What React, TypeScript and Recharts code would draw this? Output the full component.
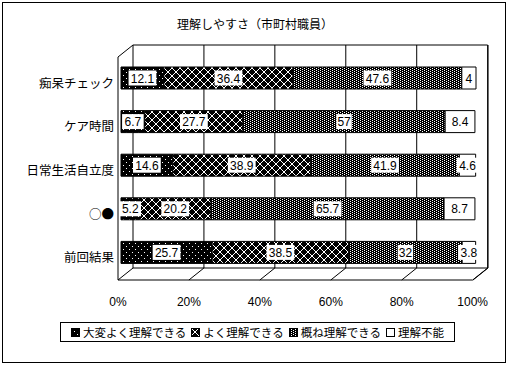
import React from "react";
import { BarChart, Bar, XAxis, YAxis, CartesianGrid, LabelList, Legend, ReferenceArea } from "recharts";

const categories = ["痴呆チェック", "ケア時間", "日常生活自立度", "○●", "前回結果"];
const veryWell = [12.1, 6.7, 14.6, 5.2, 25.7];
const well = [36.4, 27.7, 38.9, 20.2, 38.5];
const mostly = [47.6, 57, 41.9, 65.7, 32];
const notAtAll = [4, 8.4, 4.6, 8.7, 3.8];
const seriesNames = ["大変よく理解できる", "よく理解できる", "概ね理解できる", "理解不能"];
const xTicks = [0, 20, 40, 60, 80, 100];

const keys = ["s1", "s2", "s3", "s4"];
const fills = ["url(#pVery)", "url(#pWell)", "url(#pMostly)", "#fff"];

const data = categories.map((name, i) => ({
  name,
  s1: veryWell[i],
  s2: well[i],
  s3: mostly[i],
  s4: notAtAll[i],
}));

const JP = '"Noto Sans CJK JP", "Noto Sans", sans-serif';
const NUM = '"Liberation Sans", Arial, sans-serif';

// 3D depth of the walls, relative to the plane where the bars sit
const BACK_DX = 12;
const BACK_DY = 11;
const FRONT_DX = 3;
const FRONT_DY = 6;

function gridLine(p: any) {
  const { x1, y1, y2 } = p;
  return (
    <g key={p.key}>
      <line x1={x1 + BACK_DX} y1={y1 - BACK_DY} x2={x1 + BACK_DX} y2={y2 - FRONT_DY} stroke="#000" />
      <line x1={x1 - FRONT_DX} y1={y2 + FRONT_DY} x2={x1 + BACK_DX} y2={y2 - FRONT_DY} stroke="#000" />
    </g>
  );
}

function frame(p: any) {
  const { x, y, width, height } = p;
  const bx = x + BACK_DX;
  const fx = x - FRONT_DX;
  const bottom = y + height;
  return (
    <g fill="none" stroke="#000">
      <line x1={bx} y1={y - BACK_DY} x2={bx + width} y2={y - BACK_DY} />
      <line x1={bx} y1={bottom - FRONT_DY} x2={bx + width} y2={bottom - FRONT_DY} />
      <line x1={fx} y1={y + 1} x2={fx} y2={bottom + FRONT_DY} />
      <line x1={fx} y1={y + 1} x2={bx} y2={y - BACK_DY} />
      <line x1={fx} y1={bottom + FRONT_DY} x2={fx + width} y2={bottom + FRONT_DY} />
    </g>
  );
}

function valueLabel(p: any) {
  const { x, y, width, height, value } = p;
  const text = String(value);
  const tw = text.length * 6.2 + 3;
  const cx = x + width / 2;
  const cy = y + height / 2;
  return (
    <g>
      <rect x={cx - tw / 2} y={cy - 7.5} width={tw} height={15} fill="#fff" />
      <text x={cx} y={cy + 4.5} textAnchor="middle" fontSize={12} fontFamily={NUM} fill="#000">
        {text}
      </text>
    </g>
  );
}

function xTick(p: any) {
  const { x, y, payload } = p;
  return (
    <text x={x - FRONT_DX} y={y + 24} textAnchor="middle" fontSize={12} fontFamily={NUM} fill="#000">
      {payload.value}%
    </text>
  );
}

function yTick(p: any) {
  const { x, y, payload } = p;
  return (
    <text x={x + 1} y={y + FRONT_DY + 4} textAnchor="end" fontSize={12.5} fontFamily={JP} fill="#000">
      {payload.value}
    </text>
  );
}

function legendBox() {
  return (
    <div
      style={{
        border: "1px solid #000",
        height: 18,
        display: "flex",
        alignItems: "center",
        justifyContent: "center",
        gap: 5,
        fontFamily: JP,
        fontSize: 11.5,
        background: "#fff",
        whiteSpace: "nowrap",
      }}
    >
      {seriesNames.map((n, i) => (
        <span key={n} style={{ display: "flex", alignItems: "center", gap: 3 }}>
          <svg width={9} height={9}>
            <rect x={0.5} y={0.5} width={8} height={8} fill={fills[i]} stroke="#000" />
          </svg>
          {n}
        </span>
      ))}
    </div>
  );
}

export default function App() {
  return (
    <div style={{ position: "absolute", left: 0, top: 0, width: 510, height: 366, background: "#fff" }}>
      <div
        style={{
          position: "absolute",
          left: 2,
          top: 2,
          width: 502,
          height: 359,
          border: "1px solid #000",
          pointerEvents: "none",
        }}
      />
      <div
        style={{
          position: "absolute",
          left: 0,
          top: 16,
          width: 510,
          textAlign: "center",
          fontFamily: JP,
          fontSize: 12,
          lineHeight: "16px",
        }}
      >
        理解しやすさ（市町村職員）
      </div>
      <BarChart
        width={510}
        height={366}
        data={data}
        layout="vertical"
        margin={{ top: 56, right: 34, bottom: 62, left: 0 }}
        barSize={22}
      >
        <defs>
          <pattern id="pVery" width={6} height={6} patternUnits="userSpaceOnUse">
            <rect width={6} height={6} fill="#000" />
            <rect x={0} y={0} width={1} height={1} fill="#fff" />
            <rect x={3} y={3} width={1} height={1} fill="#fff" />
          </pattern>
          <pattern id="pWell" width={8} height={8} patternUnits="userSpaceOnUse">
            <rect width={8} height={8} fill="#000" />
            <path d="M0,0 L8,8 M8,0 L0,8" stroke="#fff" strokeWidth={1} />
          </pattern>
          <pattern id="pMostly" width={4} height={2} patternUnits="userSpaceOnUse">
            <rect width={4} height={2} fill="#000" />
            <rect x={0} y={0} width={1} height={1} fill="#fff" />
            <rect x={2} y={1} width={1} height={1} fill="#fff" />
          </pattern>
        </defs>
        <CartesianGrid horizontal={false} vertical={gridLine} />
        <ReferenceArea x1={0} x2={100} shape={frame} ifOverflow="visible" />
        <XAxis
          type="number"
          domain={[0, 100]}
          ticks={xTicks}
          axisLine={false}
          tickLine={false}
          height={30}
          tick={xTick}
          interval={0}
        />
        <YAxis
          type="category"
          dataKey="name"
          width={121}
          axisLine={false}
          tickLine={false}
          tick={yTick}
          interval={0}
        />
        {keys.map((k, i) => (
          <Bar
            key={k}
            dataKey={k}
            name={seriesNames[i]}
            stackId="a"
            fill={fills[i]}
            stroke="#000"
            strokeWidth={1}
            isAnimationActive={false}
          >
            <LabelList dataKey={k} content={valueLabel} />
          </Bar>
        ))}
        <Legend
          layout="horizontal"
          verticalAlign="middle"
          align="center"
          content={legendBox}
          wrapperStyle={{ left: 60, top: 322, width: 395, height: 20 }}
        />
      </BarChart>
    </div>
  );
}
